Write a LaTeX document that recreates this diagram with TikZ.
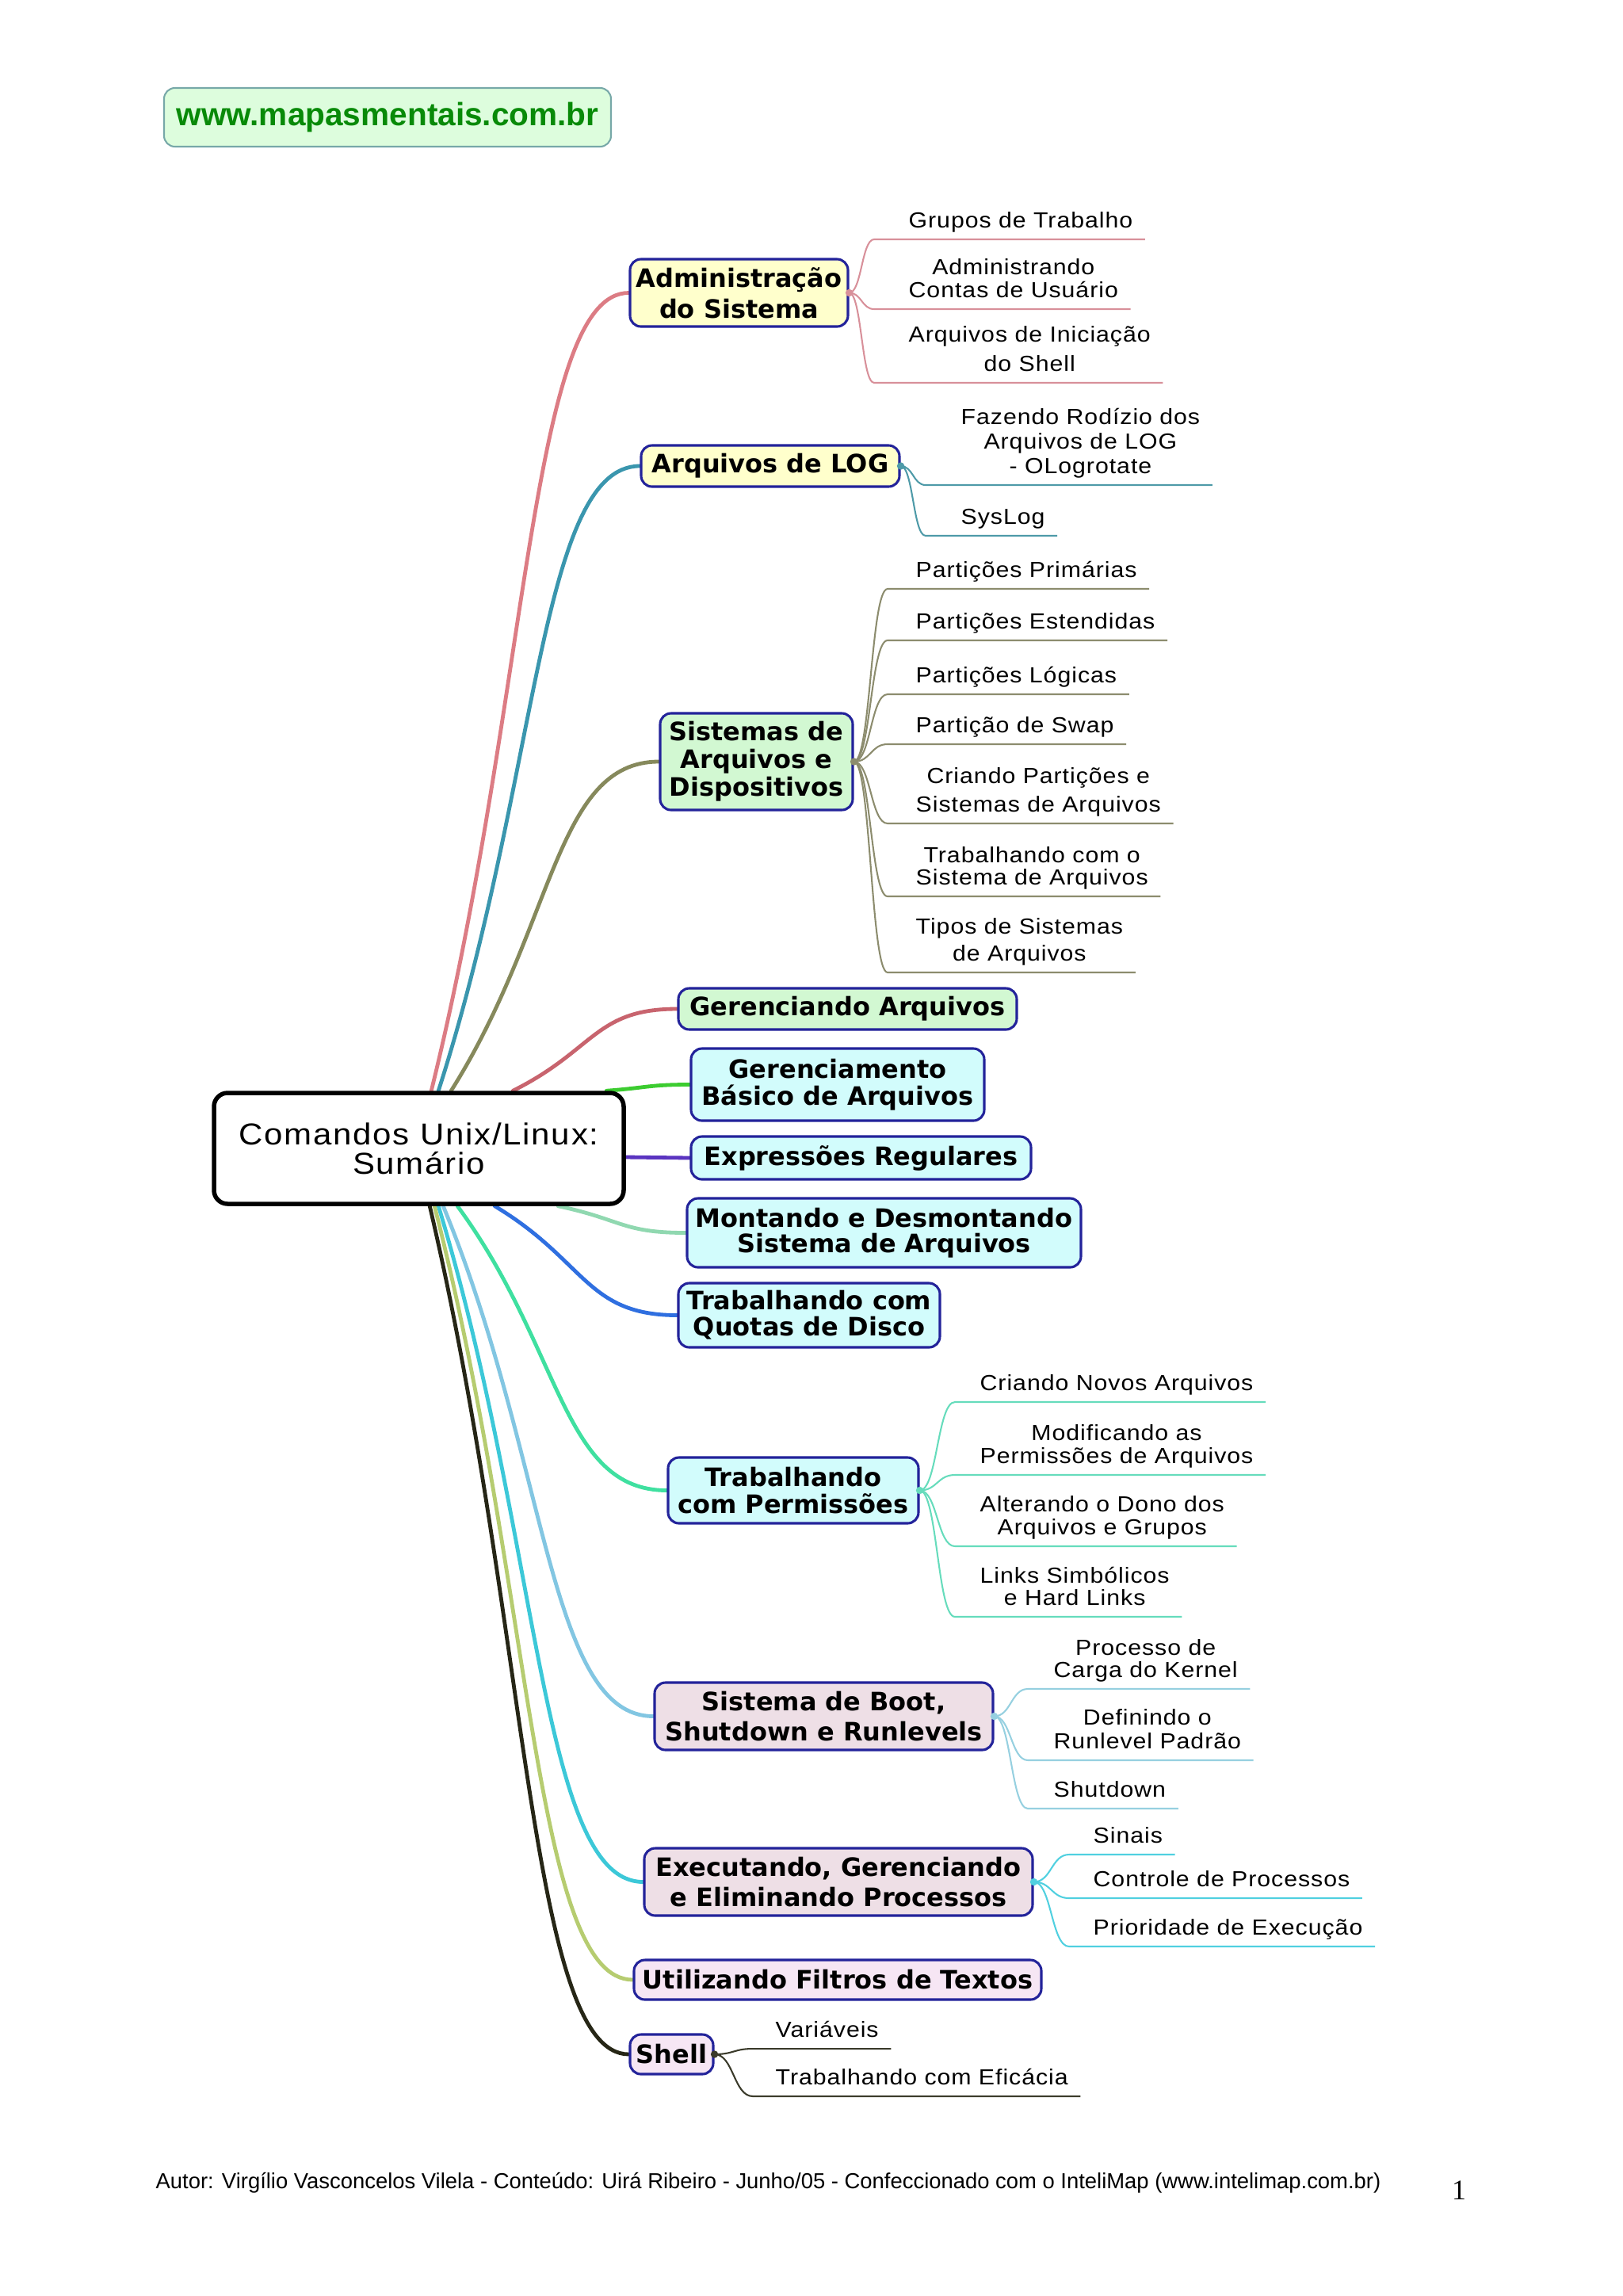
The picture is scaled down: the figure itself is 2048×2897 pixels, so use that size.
\documentclass[tikz,border=0pt]{standalone}
\usepackage{fontspec}
\setmainfont{Liberation Sans}
\newfontfamily\labfont[FakeStretch=1.1,LetterSpace=3.5]{Liberation Sans}
\newfontfamily\cenfont[FakeStretch=1.1,LetterSpace=4.6]{Liberation Sans}
\newfontfamily\topfont{DejaVu Sans}
\newfontfamily\pgnfont{Liberation Serif}
\usetikzlibrary{calc,backgrounds}
\definecolor{bA}{HTML}{DC7C84}
\definecolor{bB}{HTML}{3A96AE}
\definecolor{bC}{HTML}{86895C}
\definecolor{bD}{HTML}{C8646E}
\definecolor{bE}{HTML}{3CCC30}
\definecolor{bF}{HTML}{5A34C0}
\definecolor{bG}{HTML}{90D8B0}
\definecolor{bH}{HTML}{2F6FE0}
\definecolor{bI}{HTML}{3FE0A0}
\definecolor{bJ}{HTML}{82C6E2}
\definecolor{bK}{HTML}{3CC8D8}
\definecolor{bL}{HTML}{B6CC70}
\definecolor{bM}{HTML}{262616}
\definecolor{sA}{HTML}{D8909A}
\definecolor{sB}{HTML}{4E9AA8}
\definecolor{sC}{HTML}{8C8C6E}
\definecolor{sI}{HTML}{66DCBC}
\definecolor{sJ}{HTML}{96D0E0}
\definecolor{sK}{HTML}{50D0E0}
\definecolor{sM}{HTML}{3A3A2A}
\definecolor{fY}{HTML}{FFFFCC}
\definecolor{fG}{HTML}{D2F8D2}
\definecolor{fC}{HTML}{D2FCFC}
\definecolor{fP}{HTML}{EEDFE6}
\definecolor{fQ}{HTML}{F6E6F4}
\definecolor{bord}{HTML}{23239A}
\definecolor{hdrf}{HTML}{DDFDDD}
\definecolor{hdrb}{HTML}{77A8A8}
\definecolor{hdrt}{HTML}{088A08}
\newcommand\ml[2][9.5]{{\fontsize{8}{#1}\selectfont\begin{tabular}[b]{@{}c@{}}#2\end{tabular}}}
\begin{document}
\begin{tikzpicture}[x=0.2907pt,y=-0.2907pt,
  sz/.style 2 args={minimum width=#1*0.2907pt, minimum height=#2*0.2907pt},
  topic/.style={draw=bord, line width=0.9pt, rounded corners=4pt, align=center, inner sep=0pt, text=black,
    font=\topfont\bfseries\fontsize{9.3}{#1}\selectfont},
  topic/.default=10.8,
  sub/.style={anchor=base west, inner sep=0pt, font=\labfont\fontsize{8}{9.5}\selectfont},
  br/.style={line width=1.4pt, line cap=round, to path={.. controls ($(\tikztostart)!0.5!(\tikztotarget)$) and ($(\tikztotarget)!0.5!(\tikztostart |- \tikztotarget)$) .. (\tikztotarget) \tikztonodes}},
  sb/.style={line width=0.6pt, to path={.. controls ($(\tikztostart)!0.5!(\tikztostart -| \tikztotarget)$) and ($(\tikztotarget)!0.5!(\tikztostart |- \tikztotarget)$) .. (\tikztotarget) \tikztonodes}},
  knob/.style={line width=0.5pt, fill=white}]
\useasboundingbox (0,0) rectangle (2048,2897);

% header
\node[draw=hdrb, fill=hdrf, line width=0.6pt, rounded corners=4pt, sz={564}{74},
  font=\bfseries\fontsize{11.8}{14}\selectfont, text=hdrt] (hdr) at (489,148) {www.mapasmentais.com.br};

% central node
\node[draw=black, fill=white, line width=1.6pt, rounded corners=5pt, sz={517}{140}, align=center,
  font=\cenfont\fontsize{11.1}{10.7}\selectfont] (c) at (528.5,1449) {Comandos Unix/Linux:\\Sumário};

% topics
\node[topic=11.3, fill=fY, sz={275}{85}] (t1) at (932.5,369.5) {Administração\\do Sistema};
\node[topic, fill=fY, sz={326}{52}] (t2) at (972,588) {Arquivos de LOG};
\node[topic=10.2, fill=fG, sz={243}{122}] (t3) at (954.5,961) {Sistemas de\\Arquivos e\\Dispositivos};
\node[topic, fill=fG, sz={427}{52}] (t4) at (1069.5,1273) {Gerenciando Arquivos};
\node[topic=9.8, fill=fC, sz={370}{91}] (t5) at (1057,1368.5) {Gerenciamento\\Básico de Arquivos};
\node[topic, fill=fC, sz={429}{54}] (t6) at (1086.5,1461) {Expressões Regulares};
\node[topic=9.3, fill=fC, sz={497}{87}] (t7) at (1115.5,1555.5) {Montando e Desmontando\\Sistema de Arquivos};
\node[topic=9.5, fill=fC, sz={330}{81}] (t8) at (1021,1659.5) {Trabalhando com\\Quotas de Disco};
\node[topic=9.8, fill=fC, sz={316}{83}] (t9) at (1001,1880.5) {Trabalhando\\com Permissões};
\node[topic=11.3, fill=fP, sz={427}{85}] (t10) at (1039.5,2165.5) {Sistema de Boot,\\Shutdown e Runlevels};
\node[topic=10.8, fill=fP, sz={490}{85}] (t11) at (1058,2374.5) {Executando, Gerenciando\\e Eliminando Processos};
\node[topic, fill=fQ, sz={514}{50}] (t12) at (1057,2498) {Utilizando Filtros de Textos};
\node[topic, fill=fQ, sz={105}{50}] (t13) at (847.5,2592) {Shell};

% branch origins on central node
\coordinate (o1) at ($(c.north west)+(277,0)$);
\coordinate (o2) at ($(c.north west)+(286,0)$);
\coordinate (o3) at ($(c.north west)+(302,0)$);
\coordinate (o4) at ($(c.north west)+(380,0)$);
\coordinate (o5) at ($(c.north west)+(498,0)$);
\coordinate (o6) at ($(c.east)+(0,11)$);
\coordinate (o7) at ($(c.south west)+(437,0)$);
\coordinate (o8) at ($(c.south west)+(357,0)$);
\coordinate (o9) at ($(c.south west)+(310,0)$);
\coordinate (o10) at ($(c.south west)+(292,0)$);
\coordinate (o11) at ($(c.south west)+(286,0)$);
\coordinate (o12) at ($(c.south west)+(281,0)$);
\coordinate (o13) at ($(c.south west)+(275,0)$);

% sub nodes
\node[sub] (a1) at (1146,287) {Grupos de Trabalho};
\node[sub] (a2) at (1146,375) {\ml[8]{Administrando\\Contas de Usuário}};
\node[sub] (a3) at (1146,468) {\ml[10.7]{Arquivos de Iniciação\\do Shell}};
\coordinate (ka1) at (1103,302);
\coordinate (ka2) at (1103,390);
\coordinate (ka3) at (1103,483);

\node[sub] (l1) at (1212,597) {\ml[9]{Fazendo Rodízio dos\\Arquivos de LOG\\- OLogrotate}};
\node[sub] (l2) at (1212,661) {SysLog};
\coordinate (kl1) at (1168,612);
\coordinate (kl2) at (1168,676);

\node[sub] (s1) at (1155,728) {Partições Primárias};
\node[sub] (s2) at (1155,793) {Partições Estendidas};
\node[sub] (s3) at (1155,861) {Partições Lógicas};
\node[sub] (s4) at (1155,924) {Partição de Swap};
\node[sub] (s5) at (1155,1024) {\ml[10.2]{Criando Partições e\\Sistemas de Arquivos}};
\node[sub] (s6) at (1155,1116) {\ml[7]{Trabalhando com o\\Sistema de Arquivos}};
\node[sub] (s7) at (1155,1212) {\ml[9.6]{Tipos de Sistemas\\de Arquivos}};
\coordinate (ks1) at (1120,743);
\coordinate (ks2) at (1120,808);
\coordinate (ks3) at (1120,876);
\coordinate (ks4) at (1120,939);
\coordinate (ks5) at (1120,1039);
\coordinate (ks6) at (1120,1131);
\coordinate (ks7) at (1120,1227);

\node[sub] (p1) at (1236,1754) {Criando Novos Arquivos};
\node[sub] (p2) at (1236,1846) {\ml[8]{Modificando as\\Permissões de Arquivos}};
\node[sub] (p3) at (1236,1936) {\ml[8]{Alterando o Dono dos\\Arquivos e Grupos}};
\node[sub] (p4) at (1236,2025) {\ml[7.5]{Links Simbólicos\\e Hard Links}};
\coordinate (kp1) at (1205,1769);
\coordinate (kp2) at (1205,1861);
\coordinate (kp3) at (1205,1951);
\coordinate (kp4) at (1205,2040);

\node[sub] (b1) at (1329,2116) {\ml[7.5]{Processo de\\Carga do Kernel}};
\node[sub] (b2) at (1329,2206) {\ml[8.6]{Definindo o\\Runlevel Padrão}};
\node[sub] (b3) at (1329,2267) {Shutdown};
\coordinate (kb1) at (1297,2131);
\coordinate (kb2) at (1297,2221);
\coordinate (kb3) at (1297,2282);

\node[sub] (e1) at (1379,2325) {Sinais};
\node[sub] (e2) at (1379,2380) {Controle de Processos};
\node[sub] (e3) at (1379,2441) {Prioridade de Execução};
\coordinate (ke1) at (1349,2340);
\coordinate (ke2) at (1349,2395);
\coordinate (ke3) at (1349,2456);

\node[sub] (h1) at (978,2570) {Variáveis};
\node[sub] (h2) at (978,2630) {Trabalhando com Eficácia};
\coordinate (kh1) at (950,2585);
\coordinate (kh2) at (950,2645);

% footer
\node[anchor=base west, inner sep=0pt, font=\fontsize{7.97}{9}\selectfont] (ft) at (196,2761)
  {Autor: Virgílio Vasconcelos Vilela - Conteúdo: Uirá Ribeiro - Junho/05 - Confeccionado com o InteliMap (www.intelimap.com.br)};
\node[anchor=base, inner sep=0pt, font=\pgnfont\fontsize{10.4}{12}\selectfont] (pg) at (1841,2775) {1};

\begin{scope}[on background layer]
\fill[white] (0,0) rectangle (2048,2897);
% main branches
\draw[br, bA] (o1) to (t1.west);
\draw[br, bB] (o2) to (t2.west);
\draw[br, bC] (o3) to (t3.west);
\draw[br, bD] (o4) to (t4.west);
\draw[br, bE] (o5) to (t5.west);
\draw[br, bF] (o6) to (t6.west);
\draw[br, bG] (o7) to (t7.west);
\draw[br, bH] (o8) to (t8.west);
\draw[br, bI] (o9) to (t9.west);
\draw[br, bJ] (o10) to (t10.west);
\draw[br, bK] (o11) to (t11.west);
\draw[br, bL] (o12) to (t12.west);
\draw[br, bM] (o13) to (t13.west);
\end{scope}

% sub branches
\foreach \k in {1,2,3}{\draw[sb, sA] (t1.east) to (ka\k) -- ($(ka\k -| a\k.base east)+(15,0)$);}
\foreach \k in {1,2}{\draw[sb, sB] (t2.east) to (kl\k) -- ($(kl\k -| l\k.base east)+(15,0)$);}
\foreach \k in {1,...,7}{\draw[sb, sC] (t3.east) to (ks\k) -- ($(ks\k -| s\k.base east)+(15,0)$);}
\foreach \k in {1,...,4}{\draw[sb, sI] (t9.east) to (kp\k) -- ($(kp\k -| p\k.base east)+(15,0)$);}
\foreach \k in {1,2,3}{\draw[sb, sJ] (t10.east) to (kb\k) -- ($(kb\k -| b\k.base east)+(15,0)$);}
\foreach \k in {1,2,3}{\draw[sb, sK] (t11.east) to (ke\k) -- ($(ke\k -| e\k.base east)+(15,0)$);}
\foreach \k in {1,2}{\draw[sb, sM] (t13.east) to (kh\k) -- ($(kh\k -| h\k.base east)+(15,0)$);}
\draw[knob, sA] (t1.east) circle[radius=1.1pt];
\draw[knob, sB] (t2.east) circle[radius=1.1pt];
\draw[knob, sC] (t3.east) circle[radius=1.1pt];
\draw[knob, sI] (t9.east) circle[radius=1.1pt];
\draw[knob, sJ] (t10.east) circle[radius=1.1pt];
\draw[knob, sK] (t11.east) circle[radius=1.1pt];
\draw[knob, sM] (t13.east) circle[radius=1.1pt];
\end{tikzpicture}
\end{document}
